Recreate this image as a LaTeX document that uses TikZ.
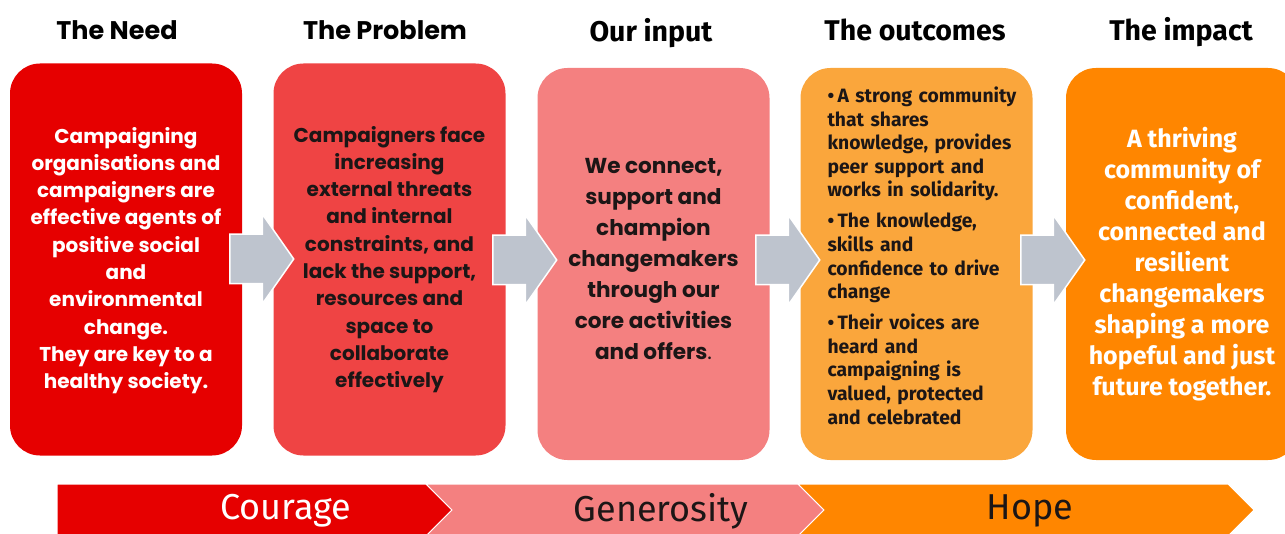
\documentclass[tikz,border=0pt]{standalone}
\usepackage{fontspec}
\setmainfont{Fira Sans}
\newfontfamily\popfont{Poppins}
\usetikzlibrary{shapes.arrows, positioning}

\definecolor{needred}{RGB}{230,0,0}
\definecolor{problemred}{RGB}{239,68,68}
\definecolor{inputpink}{RGB}{244,128,128}
\definecolor{outamber}{RGB}{250,166,60}
\definecolor{impactorange}{RGB}{255,134,0}
\definecolor{arrowgrey}{RGB}{190,196,206}
\definecolor{inkdark}{RGB}{28,22,22}

\newcommand{\bul}{\par\hangindent=10pt\relax\hangafter=1\relax\noindent\makebox[10pt][l]{\textbullet}}

\begin{document}
\begin{tikzpicture}[x=1pt, y=-1pt,
  stage/.style={rounded corners=30pt, minimum width=232pt, minimum height=392pt, inner sep=0pt},
  flow/.style={single arrow, fill=arrowgrey, draw=white, line width=1.5pt, anchor=tail,
    minimum height=64pt, minimum width=88pt, single arrow head extend=20pt,
    single arrow tip angle=110, inner xsep=0pt, inner ysep=24pt},
  heading/.style={font=\bfseries\fontsize{28.5}{32}\selectfont},
  popbody/.style={align=center, font=\popfont\bfseries\fontsize{20}{27.3}\selectfont},
  value/.style={font=\fontsize{36}{40}\selectfont}]
  \useasboundingbox (0,0) rectangle (1285,534);

  % the five stages
  \node (need)[stage, fill=needred] at (126,259.5) {};
  \node (problem)[stage, fill=problemred] at (389.5,259.5) {};
  \node (input)[stage, fill=inputpink] at (653.5,264) {};
  \node (outcomes)[stage, fill=outamber] at (916.5,264) {};
  \node (impact)[stage, fill=impactorange] at (1182,264) {};

  % headings
  \node (needtitle)[heading, font=\popfont\bfseries\fontsize{25.5}{30}\selectfont] at (117,30) {The Need};
  \node (problemtitle)[heading, font=\popfont\bfseries\fontsize{25.5}{30}\selectfont] at (385,30) {The Problem};
  \node (inputtitle)[heading] at (651,33) {Our input};
  \node (outcomestitle)[heading] at (915,30) {The outcomes};
  \node (impacttitle)[heading] at (1181,32) {The impact};

  % texts
  \node (needtxt)[popbody, text=white, yshift=-1pt] at (need.center)
    {Campaigning\\organisations and\\campaigners are\\effective agents of\\positive social\\and\\environmental\\change.\\They are key to a\\healthy society.};
  \node (problemtxt)[popbody, text=inkdark] at (problem.center)
    {Campaigners face\\increasing\\external threats\\and internal\\constraints, and\\lack the support,\\resources and\\space to\\collaborate\\effectively};
  \node (inputtxt)[popbody, text=inkdark, font=\popfont\bfseries\fontsize{21.6}{31}\selectfont] at (653.5,259.5)
    {We connect,\\support and\\champion\\changemakers\\through our\\core activities\\and offers{\mdseries .}};
  \node (outcomestxt)[text=inkdark, text width=205pt, align=left, inner sep=0pt,
    font=\bfseries\fontsize{19.3}{23.6}\selectfont] at (930,248)
    {\setlength{\parskip}{7.4pt}%
     \bul A strong community\\that shares\\knowledge, provides\\peer support and\\works in solidarity.
     \bul The knowledge,\\skills and\\confidence to drive\\change
     \bul Their voices are\\heard and\\campaigning is\\valued, protected\\and celebrated};
  \node (impacttxt)[align=center, text=white, font=\bfseries\fontsize{25}{31}\selectfont] at (1182,264.5)
    {A thriving\\community of\\confident,\\connected and\\resilient\\changemakers\\shaping a more\\hopeful and just\\future together.};

  % arrows between the stages
  \node (arr1)[flow] at (229,259) {};
  \node (arr2)[flow] at (492,260) {};
  \node (arr3)[flow] at (755,260) {};
  \node (arr4)[flow] at (1020,260) {};

  % values band
  \fill[needred, draw=white, line width=1pt] (57,484) -- (426,484) -- (452,510) -- (426,536) -- (57,536) -- cycle;
  \fill[inputpink, draw=white, line width=1pt] (426,484) -- (798,484) -- (824,510) -- (798,536) -- (426,536) -- (452,510) -- cycle;
  \fill[impactorange, draw=white, line width=1pt] (798,484) -- (1228,484) -- (1254,510) -- (1228,536) -- (798,536) -- (824,510) -- cycle;
  \node (courage)[value, text=white] at (286,511) {Courage};
  \node (generosity)[value, text=inkdark] at (661,511) {Generosity};
  \node (hope)[value, text=inkdark] at (1030,511) {Hope};
\end{tikzpicture}
\end{document}
